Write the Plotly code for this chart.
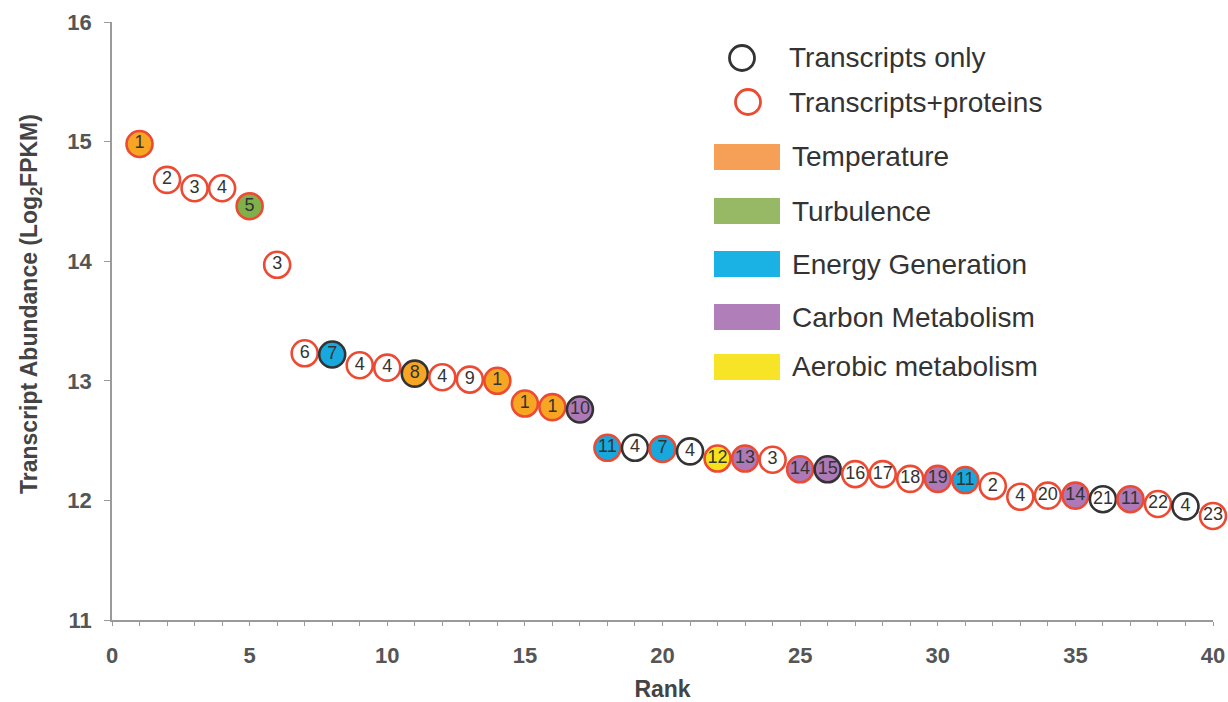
import plotly.graph_objects as go

# ---------------- data ----------------
ranks = list(range(1, 41))
abundance = [14.98, 14.68, 14.61, 14.61, 14.46, 13.97, 13.23, 13.22, 13.13, 13.11,
             13.06, 13.03, 13.01, 13.00, 12.81, 12.78, 12.76, 12.44, 12.44, 12.43,
             12.41, 12.35, 12.35, 12.34, 12.26, 12.26, 12.22, 12.22, 12.18, 12.18,
             12.17, 12.12, 12.03, 12.04, 12.04, 12.01, 12.01, 11.97, 11.95, 11.87]
labels = ["1", "2", "3", "4", "5", "3", "6", "7", "4", "4",
          "8", "4", "9", "1", "1", "1", "10", "11", "4", "7",
          "4", "12", "13", "3", "14", "15", "16", "17", "18", "19",
          "11", "2", "4", "20", "14", "21", "11", "22", "4", "23"]
category = ["Temperature", "None", "None", "None", "Turbulence", "None", "None", "Energy Generation", "None", "None",
            "Temperature", "None", "None", "Temperature", "Temperature", "Temperature", "Carbon Metabolism", "Energy Generation", "None", "Energy Generation",
            "None", "Aerobic metabolism", "Carbon Metabolism", "None", "Carbon Metabolism", "Carbon Metabolism", "None", "None", "None", "Carbon Metabolism",
            "Energy Generation", "None", "None", "None", "Carbon Metabolism", "None", "Carbon Metabolism", "None", "None", "None"]
detection = ["TP", "TP", "TP", "TP", "TP", "TP", "TP", "T", "TP", "TP",
             "T", "TP", "TP", "TP", "TP", "TP", "T", "TP", "T", "TP",
             "T", "TP", "TP", "TP", "TP", "T", "TP", "TP", "TP", "TP",
             "TP", "TP", "TP", "TP", "TP", "T", "TP", "TP", "T", "TP"]

legend_categories = ["Temperature", "Turbulence", "Energy Generation", "Carbon Metabolism", "Aerobic metabolism"]
detection_names = {"T": "Transcripts only", "TP": "Transcripts+proteins"}
y_title = "<b>Transcript Abundance (Log<sub>2</sub>FPKM)</b>"
x_title = "<b>Rank</b>"

# ---------------- styles ----------------
marker_fill = {"Temperature": "#F6A623", "Turbulence": "#7FB04A", "Energy Generation": "#17A8DE",
               "Carbon Metabolism": "#AD79B6", "Aerobic metabolism": "#F6E21C", "None": "#FFFFFF"}
swatch_fill = {"Temperature": "#F59F57", "Turbulence": "#97B865", "Energy Generation": "#1AB2E4",
               "Carbon Metabolism": "#B07EB8", "Aerobic metabolism": "#F7E426"}
border = {"T": "#333333", "TP": "#EC4A33"}

FONT = "Liberation Sans, Arial, sans-serif"

fig = go.Figure()
fig.add_trace(go.Scatter(
    x=ranks, y=abundance, mode="markers+text",
    text=labels, textposition="middle center",
    textfont=dict(family=FONT, size=18, color="#333333"),
    marker=dict(size=26, color=[marker_fill[c] for c in category],
                line=dict(color=[border[d] for d in detection], width=2.6)),
    cliponaxis=False, showlegend=False, hoverinfo="x+y",
))

# plot-area geometry in pixels (for the hand-drawn legend)
W, H = 1228, 702
L, R, T, B = 112, 15, 22, 82
def px(xp):
    return (xp - L) / (W - L - R)
def py(yp):
    return (H - B - yp) / (H - T - B)

shapes = []
annotations = []
# circle legend entries
circle_rows = [("T", 742, 58, 787), ("TP", 748, 102, 787)]
for key, cx, cy, tx in circle_rows:
    r = 12.5
    shapes.append(dict(type="circle", xref="paper", yref="paper",
                       x0=px(cx - r), x1=px(cx + r), y0=py(cy + r), y1=py(cy - r),
                       line=dict(color=border[key], width=2.8), fillcolor="rgba(0,0,0,0)"))
    annotations.append(dict(xref="paper", yref="paper", x=px(tx), y=py(cy), text=detection_names[key],
                            showarrow=False, xanchor="left", yanchor="middle",
                            font=dict(family=FONT, size=28, color="#333333")))
# swatch legend entries
swatch_rows = [157, 211, 264, 317, 367]
for name, cy in zip(legend_categories, swatch_rows):
    shapes.append(dict(type="rect", xref="paper", yref="paper",
                       x0=px(714), x1=px(780), y0=py(cy + 13), y1=py(cy - 13),
                       line=dict(width=0), fillcolor=swatch_fill[name]))
    annotations.append(dict(xref="paper", yref="paper", x=px(790), y=py(cy), text=name,
                            showarrow=False, xanchor="left", yanchor="middle",
                            font=dict(family=FONT, size=28, color="#333333")))
# y-axis title (placed as rotated text, slightly above the plot centre as in the original)
annotations.append(dict(xref="paper", yref="paper", x=px(30), y=py(304), text=y_title,
                        textangle=-90, showarrow=False, xanchor="center", yanchor="middle",
                        font=dict(family=FONT, size=23, color="#444444")))

fig.update_layout(
    width=W, height=H, autosize=False,
    margin=dict(l=L, r=R, t=T, b=B, autoexpand=False),
    paper_bgcolor="white", plot_bgcolor="white",
    shapes=shapes, annotations=annotations,
    xaxis=dict(range=[0, 40], dtick=5, tick0=0, showgrid=False, zeroline=False, automargin=False,
               showline=True, linecolor="#9A9A9A", linewidth=1.5,
               ticks="outside", ticklen=4, tickcolor="#9A9A9A", ticklabelstandoff=11,
               minor=dict(dtick=1, ticks="outside", ticklen=4, tickcolor="#9A9A9A"),
               tickfont=dict(family=FONT, size=22, color="#555555", weight="bold"),
               title=dict(text=x_title, font=dict(family=FONT, size=23, color="#444444"), standoff=15)),
    yaxis=dict(range=[11, 16], dtick=1, showgrid=False, zeroline=False, automargin=False,
               showline=True, linecolor="#9A9A9A", linewidth=1.5,
               ticks="outside", ticklen=6, tickcolor="#9A9A9A", ticklabelstandoff=8,
               tickfont=dict(family=FONT, size=22, color="#555555", weight="bold")),
)

fig.write_html("out.html", config={"displayModeBar": False, "responsive": False},
               post_script="document.body.style.margin='0';document.body.style.overflow='hidden';"
                           "document.documentElement.style.overflow='hidden';")
